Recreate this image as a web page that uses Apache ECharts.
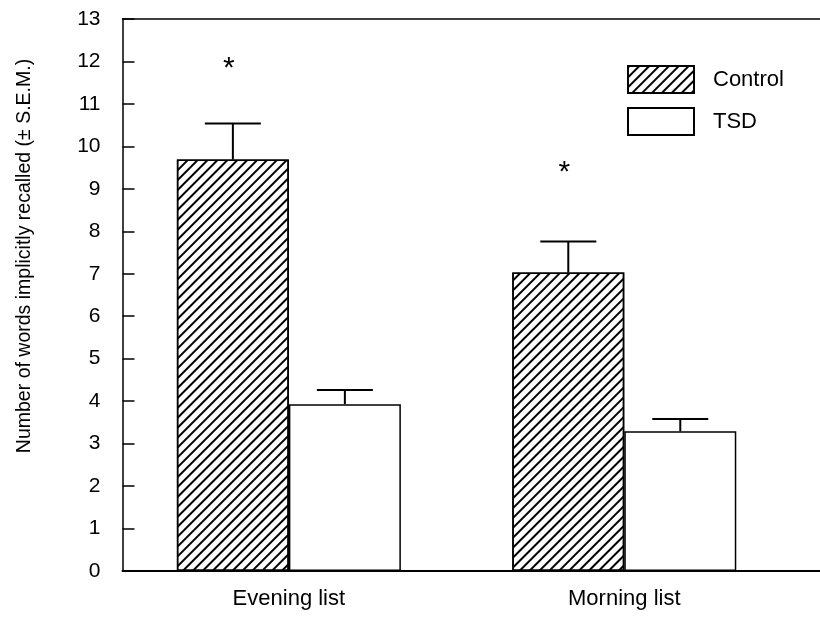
<!DOCTYPE html>
<html>
<head>
<meta charset="utf-8">
<script src="https://cdn.jsdelivr.net/npm/echarts@6/dist/echarts.min.js"></script>
<style>html,body{margin:0;padding:0;background:#fff;}#c{width:820px;height:618px;}</style>
</head>
<body>
<div id="c"></div>
<script>
const categories = ['Evening list', 'Morning list'];
const controlMeans = [9.69, 7.03];
const controlSEM = [0.85, 0.73];
const tsdMeans = [3.93, 3.29];
const tsdSEM = [0.33, 0.29];
const sigHeights = [12.0, 9.55];
const yTicks = [0,1,2,3,4,5,6,7,8,9,10,11,12,13];
const yAxisTitle = 'Number of words implicitly recalled (\u00b1 S.E.M.)';

const FONT = '"Liberation Sans", Arial, Helvetica, sans-serif';
const BAR_W = 112;
const hatch = {
  symbol: 'rect', symbolSize: 1, symbolKeepAspect: false,
  color: '#000', backgroundColor: null,
  dashArrayX: [1, 0], dashArrayY: [1.6, 4.4],
  rotation: -Math.PI / 4
};

const chart = echarts.init(document.getElementById('c'), null, {renderer: 'canvas'});

function pos(i) { return i + 1; }

const controlData = controlMeans.map((v, i) => [pos(i), v]);
const tsdData = tsdMeans.map((v, i) => [pos(i), v]);
const errControl = controlMeans.map((v, i) => [pos(i), v, v + controlSEM[i], -1]);
const errTsd = tsdMeans.map((v, i) => [pos(i), v, v + tsdSEM[i], 1]);
const sigData = sigHeights.map((v, i) => [pos(i), v]);

function renderErr(params, api) {
  const x = api.value(0), lo = api.value(1), hi = api.value(2), side = api.value(3);
  const p0 = api.coord([x, lo]);
  const p1 = api.coord([x, hi]);
  const cx = p0[0] + side * BAR_W / 2;
  const cap = BAR_W / 4;
  const st = {stroke: '#000', lineWidth: 2};
  return {type: 'group', children: [
    {type: 'line', shape: {x1: cx, y1: p0[1], x2: cx, y2: p1[1]}, style: st},
    {type: 'line', shape: {x1: cx - cap, y1: p1[1], x2: cx + cap, y2: p1[1]}, style: st}
  ]};
}

function renderSig(params, api) {
  const p = api.coord([api.value(0), api.value(1)]);
  return {type: 'text', x: p[0] - BAR_W / 2 - 4, y: p[1] + 7,
    style: {text: '*', font: '30px ' + FONT, fill: '#000', align: 'center', verticalAlign: 'middle'}};
}

chart.setOption({
  animation: false,
  backgroundColor: '#fff',
  grid: {left: 122.5, right: 0, top: 19, bottom: 47},
  legend: {
    orient: 'vertical', left: 622, top: 60, itemWidth: 66, itemHeight: 27, itemGap: 13,
    icon: 'rect',
    textStyle: {fontFamily: FONT, fontSize: 22, color: '#000', padding: [0, 0, 0, 14]},
    data: ['Control', 'TSD']
  },
  xAxis: [{
    type: 'value', min: 0.504, max: 2.5835,
    splitLine: {show: false},
    axisLine: {show: true, lineStyle: {color: '#000', width: 2}},
    axisTick: {show: false},
    axisLabel: {
      customValues: [1, 2],
      formatter: v => categories[Math.round(v) - 1] || '',
      fontFamily: FONT, fontSize: 22, color: '#000', margin: 17
    }
  }, {
    type: 'value', position: 'top', min: 0.504, max: 2.5835,
    splitLine: {show: false},
    axisLine: {show: true, onZero: false, lineStyle: {color: '#000', width: 1.5}},
    axisTick: {show: false},
    axisLabel: {show: false}
  }],
  yAxis: {
    type: 'value', min: 0, max: 13, interval: 1,
    splitLine: {show: false},
    axisLine: {show: true, lineStyle: {color: '#000', width: 1.5}},
    axisTick: {show: true, inside: true, length: 12, lineStyle: {color: '#000', width: 1.5}},
    axisLabel: {fontFamily: FONT, fontSize: 21, color: '#000', margin: 22,
      formatter: v => (yTicks.indexOf(v) >= 0 ? String(v) : '')},
    name: yAxisTitle, nameLocation: 'middle', nameRotate: 90, nameGap: 88,
    nameTextStyle: {fontFamily: FONT, fontSize: 19.5, color: '#000', padding: [0, 0, 0, 78]}
  },
  series: [
    {name: 'Control', type: 'bar', data: controlData, barWidth: BAR_W, barGap: '0%',
      itemStyle: {color: '#fff', borderColor: '#000', borderWidth: 1.5, decal: hatch}},
    {name: 'TSD', type: 'bar', data: tsdData, barWidth: BAR_W, barGap: '0%',
      itemStyle: {color: '#fff', borderColor: '#000', borderWidth: 1.5}},
    {type: 'custom', renderItem: renderErr, data: errControl, z: 5, silent: true},
    {type: 'custom', renderItem: renderErr, data: errTsd, z: 5, silent: true},
    {type: 'custom', renderItem: renderSig, data: sigData, z: 6, silent: true}
  ]
});
</script>
</body>
</html>
